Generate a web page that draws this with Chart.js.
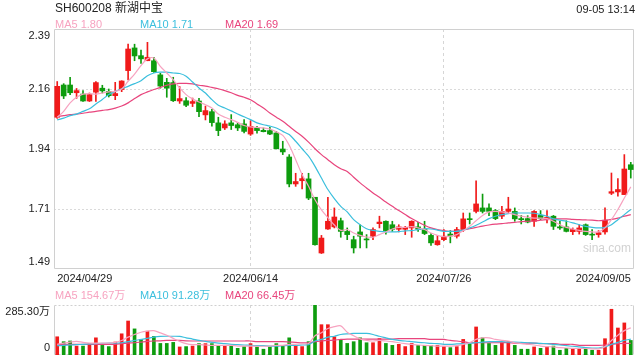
<!DOCTYPE html>
<html>
<head>
<meta charset="utf-8">
<script src="https://cdn.jsdelivr.net/npm/chart.js@4.4.0/dist/chart.umd.min.js"></script>
<style>
  body { margin: 0; background: #fff; }
  #wrap { position: relative; width: 640px; height: 360px; overflow: hidden; font-family: Arial, "Liberation Sans", "Noto Sans CJK SC", sans-serif; color: #222; }
  .txt { position: absolute; white-space: nowrap; font-size: 11px; line-height: 13px; }
  #kline { position: absolute; left: 0; top: 0; }
  #vol { position: absolute; left: 0; top: 300px; }
</style>
</head>
<body>
<div id="wrap">
  <canvas id="kline" width="640" height="290"></canvas>
  <canvas id="vol" width="640" height="60"></canvas>
  <div class="txt" style="left:55px;top:1px;font-size:12px;line-height:14px">SH600208 新湖中宝</div>
  <div class="txt" style="right:5px;top:3px">09-05 13:14</div>
  <div class="txt" style="left:55px;top:18px;color:#f7a3c0">MA5 1.80</div>
  <div class="txt" style="left:140px;top:18px;color:#3bbfdd">MA10 1.71</div>
  <div class="txt" style="left:225px;top:18px;color:#e8457d">MA20 1.69</div>
  <div class="txt" style="left:55px;top:289px;color:#f7a3c0">MA5 154.67万</div>
  <div class="txt" style="left:140px;top:289px;color:#3bbfdd">MA10 91.28万</div>
  <div class="txt" style="left:225px;top:289px;color:#e8457d">MA20 66.45万</div>
  <div class="txt" style="left:583px;top:242px;color:#d2d2d2;font-size:12px">sina.com</div>
</div>
<script>
// trading days 2024/04/29 - 2024/09/05
const dates = [
  '2024/04/29','2024/04/30',
  '2024/05/06','2024/05/07','2024/05/08','2024/05/09','2024/05/10','2024/05/13','2024/05/14','2024/05/15','2024/05/16','2024/05/17',
  '2024/05/20','2024/05/21','2024/05/22','2024/05/23','2024/05/24','2024/05/27','2024/05/28','2024/05/29','2024/05/30','2024/05/31',
  '2024/06/03','2024/06/04','2024/06/05','2024/06/06','2024/06/07','2024/06/11','2024/06/12','2024/06/13','2024/06/14',
  '2024/06/17','2024/06/18','2024/06/19','2024/06/20','2024/06/21','2024/06/24','2024/06/25','2024/06/26','2024/06/27','2024/06/28',
  '2024/07/01','2024/07/02','2024/07/03','2024/07/04','2024/07/05','2024/07/08','2024/07/09','2024/07/10','2024/07/11','2024/07/12',
  '2024/07/15','2024/07/16','2024/07/17','2024/07/18','2024/07/19','2024/07/22','2024/07/23','2024/07/24','2024/07/25','2024/07/26',
  '2024/07/29','2024/07/30','2024/07/31','2024/08/01','2024/08/02','2024/08/05','2024/08/06','2024/08/07','2024/08/08','2024/08/09',
  '2024/08/12','2024/08/13','2024/08/14','2024/08/15','2024/08/16','2024/08/19','2024/08/20','2024/08/21','2024/08/22','2024/08/23',
  '2024/08/26','2024/08/27','2024/08/28','2024/08/29','2024/08/30','2024/09/02','2024/09/03','2024/09/04','2024/09/05'
];

const openP = [
  2.059,2.180,2.180,2.151,2.146,2.120,2.153,2.168,2.156,2.140,
  2.163,2.234,2.319,2.290,2.271,2.271,2.218,2.190,2.189,2.120,
  2.121,2.111,2.120,2.068,2.080,2.038,2.019,2.038,2.031,2.034,
  1.996,2.019,2.010,2.009,2.000,1.940,1.910,1.809,1.821,1.828,
  1.759,1.550,1.640,1.648,1.671,1.631,1.600,1.629,1.602,1.613,
  1.660,1.669,1.656,1.639,1.639,1.644,1.648,1.638,1.616,1.581,
  1.600,1.621,1.613,1.638,1.678,1.706,1.719,1.719,1.709,1.688,
  1.706,1.706,1.679,1.679,1.669,1.691,1.678,1.688,1.648,1.648,
  1.630,1.631,1.656,1.619,1.619,1.629,1.774,1.779,1.769,1.881
];
const highP = [
  2.193,2.185,2.209,2.167,2.159,2.150,2.193,2.179,2.165,2.190,
  2.196,2.333,2.333,2.311,2.340,2.284,2.224,2.205,2.209,2.174,
  2.133,2.131,2.130,2.101,2.089,2.059,2.046,2.069,2.040,2.050,
  2.046,2.025,2.019,2.021,2.006,1.969,1.919,1.849,1.849,1.849,
  1.759,1.616,1.759,1.719,1.681,1.644,1.613,1.656,1.619,1.644,
  1.688,1.671,1.669,1.656,1.650,1.671,1.665,1.669,1.623,1.616,
  1.638,1.634,1.646,1.700,1.700,1.821,1.771,1.734,1.713,1.725,
  1.759,1.719,1.691,1.690,1.709,1.709,1.709,1.691,1.669,1.671,
  1.644,1.656,1.659,1.638,1.634,1.719,1.850,1.829,1.919,1.890
];
const lowP = [
  2.055,2.129,2.144,2.130,2.118,2.118,2.118,2.150,2.135,2.125,
  2.155,2.199,2.271,2.261,2.271,2.227,2.168,2.134,2.118,2.111,
  2.099,2.099,2.061,2.049,2.026,1.990,2.013,2.013,2.009,2.000,
  1.991,1.999,2.004,1.994,1.940,1.919,1.798,1.800,1.790,1.750,
  1.579,1.548,1.638,1.644,1.609,1.600,1.550,1.569,1.569,1.600,
  1.644,1.621,1.631,1.629,1.619,1.609,1.631,1.619,1.578,1.579,
  1.596,1.588,1.606,1.631,1.659,1.700,1.700,1.690,1.675,1.679,
  1.700,1.669,1.659,1.663,1.650,1.675,1.663,1.638,1.638,1.629,
  1.619,1.621,1.616,1.600,1.609,1.621,1.769,1.763,1.769,1.831
];
const closeP = [
  2.175,2.139,2.151,2.159,2.120,2.144,2.189,2.158,2.140,2.148,
  2.195,2.315,2.289,2.278,2.284,2.230,2.176,2.168,2.121,2.129,
  2.104,2.118,2.080,2.084,2.039,2.009,2.034,2.028,2.019,2.006,
  2.025,2.009,2.005,1.996,1.941,1.929,1.809,1.818,1.829,1.756,
  1.581,1.606,1.669,1.685,1.631,1.619,1.569,1.613,1.599,1.638,
  1.666,1.634,1.639,1.648,1.646,1.669,1.639,1.623,1.588,1.596,
  1.613,1.614,1.638,1.678,1.675,1.734,1.706,1.706,1.679,1.706,
  1.715,1.678,1.675,1.666,1.706,1.679,1.684,1.650,1.644,1.631,
  1.638,1.644,1.619,1.617,1.626,1.673,1.780,1.788,1.865,1.863
];

// moving averages
const ma5 = [
  2.059,2.081,2.113,2.134,2.146,2.148,2.146,2.150,2.154,2.156,
  2.165,2.194,2.221,2.253,2.278,2.281,2.250,2.225,2.200,2.169,
  2.144,2.128,2.116,2.106,2.094,2.071,2.059,2.050,2.040,2.028,
  2.023,2.021,2.019,2.015,2.004,1.991,1.954,1.900,1.844,1.800,
  1.750,1.712,1.683,1.655,1.635,1.638,1.625,1.616,1.610,1.609,
  1.619,1.629,1.640,1.646,1.646,1.649,1.644,1.638,1.625,1.616,
  1.611,1.613,1.619,1.634,1.650,1.671,1.691,1.704,1.706,1.704,
  1.700,1.694,1.688,1.684,1.681,1.681,1.679,1.669,1.656,1.646,
  1.640,1.635,1.631,1.629,1.629,1.644,1.675,1.713,1.756,1.798
];
const ma10 = [
  2.049,2.056,2.065,2.071,2.081,2.091,2.109,2.126,2.144,2.156,
  2.166,2.175,2.185,2.196,2.215,2.225,2.228,2.228,2.225,2.223,
  2.213,2.191,2.169,2.150,2.125,2.104,2.094,2.083,2.071,2.061,
  2.050,2.038,2.031,2.026,2.019,2.006,1.994,1.969,1.941,1.913,
  1.875,1.831,1.788,1.754,1.725,1.704,1.675,1.656,1.641,1.635,
  1.631,1.629,1.629,1.630,1.633,1.634,1.638,1.641,1.640,1.636,
  1.631,1.631,1.631,1.636,1.644,1.654,1.666,1.679,1.688,1.694,
  1.698,1.700,1.700,1.700,1.699,1.694,1.688,1.678,1.673,1.669,
  1.663,1.656,1.650,1.646,1.644,1.646,1.656,1.675,1.694,1.713
];
const ma20 = [
  2.061,2.065,2.069,2.071,2.074,2.078,2.081,2.085,2.088,2.093,
  2.101,2.113,2.129,2.144,2.154,2.163,2.171,2.179,2.184,2.186,
  2.186,2.184,2.179,2.176,2.171,2.166,2.159,2.151,2.141,2.134,
  2.125,2.109,2.094,2.075,2.059,2.044,2.025,2.006,1.988,1.966,
  1.941,1.919,1.900,1.881,1.866,1.856,1.834,1.813,1.794,1.775,
  1.759,1.741,1.725,1.709,1.694,1.679,1.666,1.654,1.644,1.638,
  1.634,1.631,1.633,1.636,1.641,1.646,1.651,1.655,1.658,1.660,
  1.663,1.665,1.668,1.669,1.670,1.673,1.675,1.678,1.678,1.678,
  1.676,1.675,1.674,1.673,1.671,1.673,1.676,1.681,1.688,1.694
];

// volume in 万
const volume = [
  104,76,80,51,51,66,98,55,48,74,
  121,194,149,89,136,106,66,66,72,46,
  48,51,65,65,65,55,51,51,38,48,
  65,46,33,48,65,51,98,51,48,76,
  285.3,173,173,104,89,66,76,98,70,70,
  94,66,55,61,48,66,55,55,55,55,
  48,42,48,89,61,160,98,66,55,70,
  76,55,33,33,46,38,48,51,27,38,
  33,37,37,27,27,93,261,154,183,83
];
const volMa5 = [
  61,68,74,78,72,68,68,68,68,72,
  83,102,117,130,136,139,126,113,95,78,
  65,59,59,57,55,55,55,55,51,51,
  51,50,50,51,55,55,61,61,65,66,
  110,127,151,162,166,130,110,92,83,80,
  83,80,76,70,65,61,57,55,53,51,
  51,51,53,61,70,89,98,98,89,83,
  80,70,65,61,57,51,48,46,42,40,
  38,37,37,35,35,48,83,113,139,155
];
const volMa10 = [
  53,55,57,59,61,63,65,66,68,68,
  70,76,83,89,95,102,106,107,107,106,
  98,91,83,78,72,68,65,61,59,57,
  55,53,53,51,51,53,55,55,57,59,
  80,89,102,107,117,121,123,123,123,117,
  107,98,89,83,80,76,72,70,66,65,
  61,61,63,65,66,70,74,76,76,76,
  74,74,72,70,68,66,65,61,57,53,
  50,46,42,40,40,46,61,72,83,91
];
const volMa20 = [
  59,61,61,61,61,61,61,61,61,61,
  65,68,70,74,78,80,81,83,83,83,
  81,80,80,80,80,80,80,80,80,80,
  80,76,76,76,76,76,74,72,70,70,
  76,80,83,85,89,91,91,91,91,91,
  91,91,91,93,93,93,93,93,89,89,
  89,83,80,76,70,70,70,70,70,70,
  70,68,68,68,68,65,65,65,61,61,
  61,55,55,55,55,57,61,65,66,66
];

const priceTicks = [1.49, 1.715, 1.94, 2.165, 2.39];
const priceTickLabels = ['1.49', '1.71', '1.94', '2.16', '2.39'];
const volTicks = [0, 285.30];
const volTickLabels = ['0', '285.30万'];
const dateTickLabels = ['2024/04/29', '2024/06/14', '2024/07/26', '2024/09/05'];

const RED = '#f01a1a';
const GREEN = '#0e9c0e';
const MA5C = '#f7a3c0', MA10C = '#3bbfdd', MA20C = '#e8457d';
const NONE = 'rgba(0,0,0,0)';

const candleColor = closeP.map((c, i) => c >= openP[i] ? RED : GREEN);

Chart.defaults.font.family = 'Arial, "Liberation Sans", "Noto Sans CJK SC", sans-serif';
Chart.defaults.font.size = 11;
Chart.defaults.color = '#222';

// labels at top/bottom edge get pushed inside the panel
function edgeLabel(labels) {
  return (v, i) => {
    if (i === 0) return [labels[i], ''];
    if (i === labels.length - 1) return ['', labels[i]];
    return labels[i];
  };
}

// box around the plot area; dotted sides optional
const frame = {
  id: 'frame',
  beforeDatasetsDraw(chart, args, opts) {
    const { ctx, chartArea: a } = chart;
    const l = Math.round(a.left) + 0.5, r = Math.round(a.right) - 0.5;
    const t = Math.round(a.top) + 0.5, b = Math.round(a.bottom) - 0.5;
    ctx.save();
    ctx.lineWidth = 1;
    ctx.strokeStyle = '#d0d0d0';
    const side = (x1, y1, x2, y2, dotted) => {
      ctx.setLineDash(dotted ? [2, 2] : []);
      ctx.beginPath(); ctx.moveTo(x1, y1); ctx.lineTo(x2, y2); ctx.stroke();
    };
    side(l, t, r, t, opts.dottedTop);
    side(l, b, r, b, opts.dottedBottom);
    side(l, t, l, b, false);
    side(r, t, r, b, false);
    ctx.restore();
  }
};

function xScale(showLabels) {
  return {
    offset: true,
    grid: {
      offset: false,
      drawTicks: false,
      color: c => (c.index === 1 || c.index === 2) ? '#d6d6d6' : NONE
    },
    border: { display: false, dash: [3, 3] },
    ticks: { display: showLabels, autoSkip: false, maxRotation: 0, align: 'inner', padding: 3, color: '#222' },
    afterBuildTicks: s => { s.ticks = s.ticks.filter(t => dateTickLabels.includes(dates[t.value])); },
    afterFit: s => { s.height = showLabels ? 21 : 0; s.paddingLeft = 0; s.paddingRight = 0; }
  };
}

function lineSet(label, data, color) {
  return { type: 'line', label, data, borderColor: color, borderWidth: 1.2, pointRadius: 0, tension: 0.3, order: 0 };
}

new Chart(document.getElementById('kline'), {
  type: 'bar',
  data: {
    labels: dates,
    datasets: [
      lineSet('MA5', ma5, MA5C),
      lineSet('MA10', ma10, MA10C),
      lineSet('MA20', ma20, MA20C),
      {
        type: 'bar', label: 'body',
        data: openP.map((o, i) => [o, closeP[i]]),
        backgroundColor: candleColor,
        barThickness: 5, minBarLength: 1, grouped: false, order: 1
      },
      {
        type: 'bar', label: 'wick',
        data: lowP.map((l, i) => [l, highP[i]]),
        backgroundColor: candleColor,
        barThickness: 1, grouped: false, order: 2
      }
    ]
  },
  options: {
    responsive: false,
    animation: false,
    layout: { padding: { top: 29, right: 6, left: 0, bottom: 0 } },
    plugins: { legend: { display: false }, tooltip: { enabled: false }, frame: {} },
    scales: {
      x: xScale(true),
      y: {
        min: 1.49, max: 2.39,
        afterBuildTicks: s => { s.ticks = priceTicks.map(v => ({ value: v })); },
        afterFit: s => { s.width = 54; s.paddingTop = 0; s.paddingBottom = 0; },
        grid: { drawTicks: false, color: c => (c.index > 0 && c.index < priceTicks.length - 1) ? '#dadada' : NONE },
        border: { display: false, dash: [2, 2] },
        ticks: { padding: 4, color: '#222', callback: edgeLabel(priceTickLabels) }
      }
    }
  },
  plugins: [frame]
});

new Chart(document.getElementById('vol'), {
  type: 'bar',
  data: {
    labels: dates,
    datasets: [
      lineSet('MA5', volMa5, MA5C),
      lineSet('MA10', volMa10, MA10C),
      lineSet('MA20', volMa20, MA20C),
      { type: 'bar', label: 'vol', data: volume, backgroundColor: candleColor, barThickness: 3, order: 1 }
    ]
  },
  options: {
    responsive: false,
    animation: false,
    layout: { padding: { top: 5, right: 6, left: 0, bottom: 5 } },
    plugins: { legend: { display: false }, tooltip: { enabled: false }, frame: { dottedTop: true, dottedBottom: true } },
    scales: {
      x: xScale(false),
      y: {
        min: 0, max: 285.30,
        afterBuildTicks: s => { s.ticks = volTicks.map(v => ({ value: v })); },
        afterFit: s => { s.width = 54; s.paddingTop = 0; s.paddingBottom = 0; },
        grid: { display: false, drawTicks: false },
        border: { display: false },
        ticks: { padding: 4, color: '#222', callback: edgeLabel(volTickLabels) }
      }
    }
  },
  plugins: [frame]
});
</script>
</body>
</html>
